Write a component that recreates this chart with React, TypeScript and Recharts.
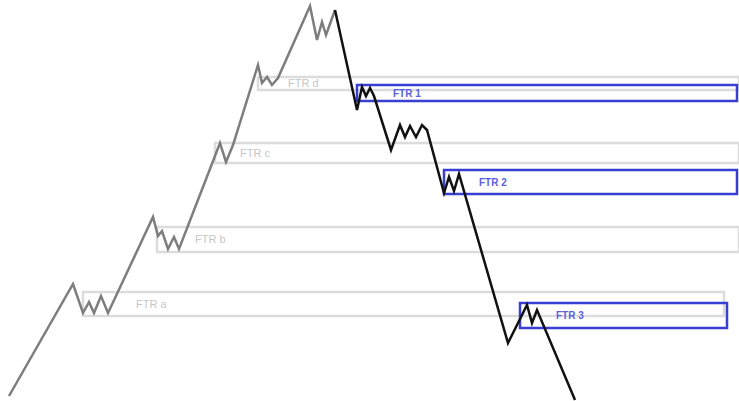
import React from 'react'
import { ComposedChart, Line, ReferenceArea, XAxis, YAxis } from 'recharts'

interface IPoint {
  t: number;
  price: number;
}

interface IZone {
  name: string;
  from: number;
  to: number;
  low: number;
  high: number;
  labelOffset: number;
}

// rally leg (grey) and drop leg (black)
const rallyT = [9, 73, 83, 89, 94, 101, 108, 153, 158, 162, 168, 174, 179, 220, 226, 233, 258, 262, 267, 272, 278, 310, 317, 322, 326, 335];
const rallyPrice = [5, 117, 88, 99, 88, 105, 88, 184, 165, 170, 152, 164, 152, 258, 239, 256, 336, 318, 324, 316, 323, 395, 361, 379, 366, 391];

const dropT = [335, 357, 362, 366, 370, 374, 391, 400, 405, 410, 416, 422, 427, 444, 449, 454, 459, 508, 527, 532, 537, 575];
const dropPrice = [391, 291, 314, 305, 313, 305, 251, 276, 264, 275, 264, 276, 271, 208, 224, 210, 227, 58, 96, 78, 91, 1];

const oldZones: IZone[] = [
  { name: 'FTR a', from: 83, to: 724, low: 85, high: 109, labelOffset: 53 },
  { name: 'FTR b', from: 157, to: 739, low: 149, high: 174, labelOffset: 38 },
  { name: 'FTR c', from: 215, to: 739, low: 238, high: 258, labelOffset: 25 },
  { name: 'FTR d', from: 258, to: 739, low: 311, high: 324, labelOffset: 30 },
];

const newZones: IZone[] = [
  { name: 'FTR 1', from: 357, to: 737, low: 300, high: 316, labelOffset: 36 },
  { name: 'FTR 2', from: 444, to: 737, low: 207, high: 231, labelOffset: 35 },
  { name: 'FTR 3', from: 520, to: 727, low: 73, high: 98, labelOffset: 36 },
];

function toPoints(t: number[], price: number[]): IPoint[] {
  return t.map((x, i) => ({ t: x, price: price[i] }));
}

function App() {
  const rally = toPoints(rallyT, rallyPrice);
  const drop = toPoints(dropT, dropPrice);

  return (
    <div style={{ position: 'absolute', left: 0, top: 0, background: '#fff' }}>
      <ComposedChart width={739} height={401} margin={{ top: 0, right: 0, bottom: 0, left: 0 }}>
        <XAxis type="number" dataKey="t" domain={[0, 739]} hide allowDataOverflow />
        <YAxis type="number" dataKey="price" domain={[0, 401]} hide allowDataOverflow />
        {oldZones.map((z) => (
          <ReferenceArea
            key={z.name}
            x1={z.from}
            x2={z.to}
            y1={z.low}
            y2={z.high}
            fill="#fff"
            fillOpacity={0}
            stroke="#dcdcdc"
            strokeWidth={2.5}
            ifOverflow="visible"
            label={{ value: z.name, position: 'insideLeft', offset: z.labelOffset, fill: '#c6c6c6', fontSize: 11, fontFamily: 'Liberation Sans' }}
          />
        ))}
        {newZones.map((z) => (
          <ReferenceArea
            key={z.name}
            x1={z.from}
            x2={z.to}
            y1={z.low}
            y2={z.high}
            fill="#fff"
            fillOpacity={0}
            stroke="#3a3fd4"
            strokeWidth={2.5}
            ifOverflow="visible"
            label={{ value: z.name, position: 'insideLeft', offset: z.labelOffset, fill: '#5a5fe0', fontSize: 10, fontWeight: 'bold', fontFamily: 'Liberation Sans' }}
          />
        ))}
        <Line data={rally} dataKey="price" type="linear" stroke="#7d7d7d" strokeWidth={2.5} dot={false} activeDot={false} strokeLinecap="butt" isAnimationActive={false} />
        <Line data={drop} dataKey="price" type="linear" stroke="#111" strokeWidth={2.5} dot={false} activeDot={false} strokeLinecap="butt" isAnimationActive={false} />
      </ComposedChart>
    </div>
  )
}

export default App
